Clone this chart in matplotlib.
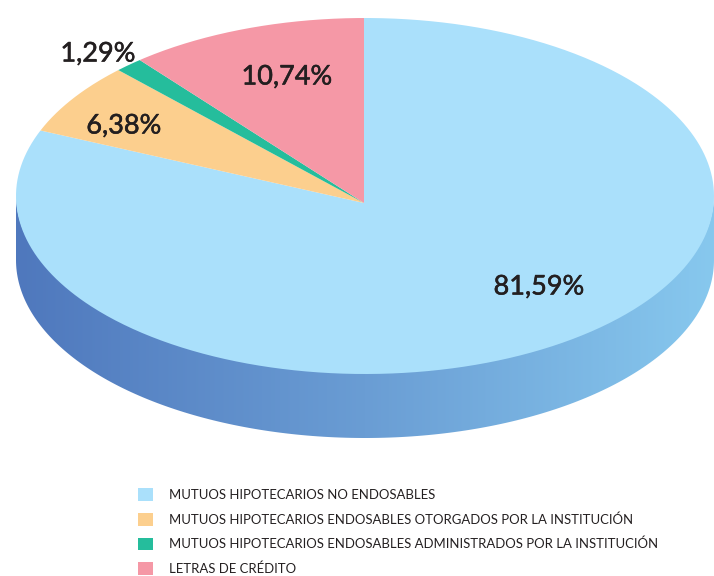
import numpy as np
import matplotlib
matplotlib.use("Agg")
import matplotlib.pyplot as plt
import matplotlib.patheffects as pe
from matplotlib.colors import LinearSegmentedColormap
from matplotlib.patches import PathPatch
from matplotlib.path import Path

categories = [
    "MUTUOS HIPOTECARIOS NO ENDOSABLES",
    "MUTUOS HIPOTECARIOS ENDOSABLES OTORGADOS POR LA INSTITUCIÓN",
    "MUTUOS HIPOTECARIOS ENDOSABLES ADMINISTRADOS POR LA INSTITUCIÓN",
    "LETRAS DE CRÉDITO",
]
values = [81.59, 6.38, 1.29, 10.74]

COLORS = ["#aae0fb", "#fccf8e", "#25bd9c", "#f598a6"]
WALL_COLORS = ["#4f78bd", "#6a9dd4", "#87c8ee"]
TEXT_DARK = "#231f20"

# pixel layout of the reference: wedges meet at the apex, a little below the ellipse centre
W, H = 714, 576
APEX_X, APEX_Y = 364, 203
CX, CY = 365, 196
RX, RY = 349, 178
DEPTH = 64
LABEL_PX = [(539, 287), (124, 126), (98, 54), (287, 77)]


def px(x, y):
    return (x - APEX_X) / RX, (APEX_Y - y) / RY


plt.rcParams["font.family"] = ["Lato", "DejaVu Sans"]

fig = plt.figure(figsize=(W / 100, H / 100), dpi=100)
ax = fig.add_axes([0, 0, 1, 1])

wedges, _ = ax.pie(values, colors=COLORS, startangle=90, counterclock=False, radius=1.2)
ax.set_aspect("auto")

ex, ey = px(CX, CY)
t_full = np.linspace(0, 2 * np.pi, 720)
face_path = Path(np.c_[ex + np.cos(t_full), ey + np.sin(t_full)], closed=False)
for w in wedges:
    # pie turns clipping off on its wedges
    w.set_clip_on(True)
    w.set_clip_path(face_path, ax.transData)
    w.set_zorder(3)

# side wall, lower half of the ellipse pushed down by the depth
t = np.linspace(np.pi, 2 * np.pi, 200)
d = DEPTH / RY
top_x, top_y = ex + np.cos(t), ey + np.sin(t)
verts = np.r_[np.c_[top_x, top_y + 0.01], np.c_[top_x[::-1], top_y[::-1] - d], [[top_x[0], top_y[0]]]]
wall = PathPatch(Path(verts, closed=True), facecolor="none", edgecolor="none")
ax.add_patch(wall)
cmap = LinearSegmentedColormap.from_list("wall", WALL_COLORS)
img = ax.imshow(
    np.linspace(0, 1, 256).reshape(1, -1),
    cmap=cmap,
    extent=[ex - 1, ex + 1, ey - 1 - d, ey + 0.1],
    aspect="auto",
    zorder=2,
)
img.set_clip_path(wall)

x0, y1 = px(0, 0)
x1, y0 = px(W, H)
ax.set_xlim(x0, x1)
ax.set_ylim(y0, y1)
ax.set_axis_off()

for v, (lx, ly) in zip(values, LABEL_PX):
    tx, ty = px(lx, ly)
    label = f"{v:.2f}".replace(".", ",") + "%"
    ax.text(tx, ty, label, ha="center", va="center", fontsize=19.5, color=TEXT_DARK, zorder=5,
            path_effects=[pe.withStroke(linewidth=0.4, foreground=TEXT_DARK)])

fig.legend(
    wedges,
    categories,
    loc="upper left",
    bbox_to_anchor=(138 / W, 1 - 488 / H),
    frameon=False,
    fontsize=9.45,
    labelcolor=TEXT_DARK,
    handlelength=1.14,
    handleheight=1.14,
    handletextpad=1.2,
    labelspacing=0.9,
    borderpad=0,
    borderaxespad=0,
)

fig.savefig("out.png", dpi=100)
